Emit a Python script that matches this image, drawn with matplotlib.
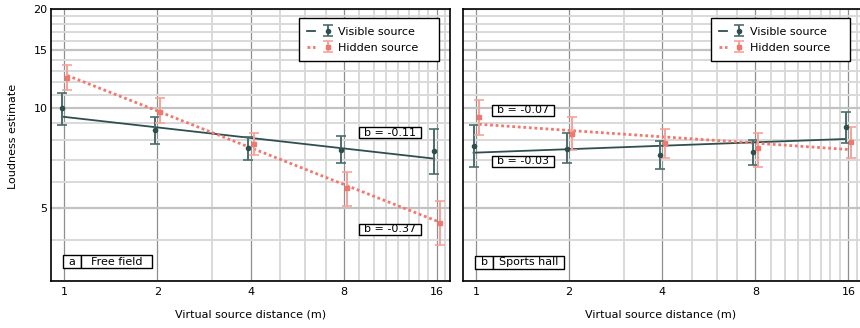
import numpy as np
import matplotlib
matplotlib.use("Agg")
import matplotlib.pyplot as plt
from matplotlib.ticker import FixedLocator, FixedFormatter, NullFormatter
from matplotlib.patches import Rectangle
from matplotlib.path import Path
from matplotlib.legend_handler import HandlerTuple

# ---------------- data ----------------
distances = [1, 2, 4, 8, 16]
x_tick_values = [1, 2, 4, 8, 16]
x_tick_labels = ["1", "2", "4", "8", "16"]
y_tick_values = [5, 10, 15, 20]
y_tick_labels = ["5", "10", "15", "20"]

# Free field (panel a)
ff_visible = [10.0, 8.58, 7.56, 7.49, 7.42]
ff_visible_lo = [8.88, 7.78, 7.00, 6.81, 6.32]
ff_visible_hi = [11.1, 9.39, 8.17, 8.25, 8.67]
ff_hidden = [12.4, 9.77, 7.79, 5.74, 4.50]
ff_hidden_lo = [11.34, 9.05, 7.20, 5.07, 3.85]
ff_hidden_hi = [13.55, 10.77, 8.41, 6.40, 5.24]

# Sports hall (panel b)
sh_visible = [7.70, 7.53, 7.23, 7.36, 8.78]
sh_visible_lo = [6.65, 6.81, 6.54, 6.73, 7.83]
sh_visible_hi = [8.88, 8.44, 7.97, 8.02, 9.77]
sh_hidden = [9.39, 8.34, 7.87, 7.58, 7.89]
sh_hidden_lo = [8.28, 7.46, 7.09, 6.65, 7.05]
sh_hidden_hi = [10.62, 9.39, 8.67, 8.44, 8.78]

ff_slope_labels = ["b = -0.11", "b = -0.37"]   # visible, hidden
sh_slope_labels = ["b = -0.03", "b = -0.07"]   # visible, hidden
panel_letters = ["a", "b"]
panel_names = ["Free field", "Sports hall"]
series_names = ["Visible source", "Hidden source"]

# ---------------- style ----------------
plt.rcParams["font.family"] = ["DejaVu Sans"]
plt.rcParams["font.size"] = 8

VIS_C = "#2f4f4f"
VIS_ERR = "#4a6e6b"
HID_C = "#f4776d"
HID_ERR = "#f7a29b"

W, H = 860, 328
fig = plt.figure(figsize=(W / 100, H / 100), dpi=100)

ax_bottom = (H - 281) / H
ax_height = 272 / H
AXW = 399
ax1 = fig.add_axes([51 / W, ax_bottom, AXW / W, ax_height])
ax2 = fig.add_axes([462.7 / W, ax_bottom, AXW / W, ax_height])

x_minor = [3, 5, 6, 7, 9, 10, 11, 12, 13, 14, 15, 17]
y_minor = [3, 4, 6, 7, 8, 9, 11, 12, 13, 14, 16, 17, 18, 19]


def fit_line(x, y):
    b, a = np.polyfit(np.log(x), np.log(y), 1)
    return np.exp(a + b * np.log(np.asarray(x, float)))


def wide_box(x0, y0, width, height, mutation_size):
    px = 0.42 * mutation_size
    py = 0.04 * mutation_size
    verts = [(x0 - px, y0 - py), (x0 + width + px, y0 - py),
             (x0 + width + px, y0 + height + py), (x0 - px, y0 + height + py),
             (x0 - px, y0 - py)]
    return Path(verts, closed=True)


def draw_panel(ax, vis, vis_lo, vis_hi, hid, hid_lo, hid_hi, show_ylabels):
    ax.set_xscale("log")
    ax.set_yscale("log")
    ax.set_xlim(0.906, 17.66)
    ax.set_ylim(3, 20)
    ax.set_axisbelow(True)

    ax.xaxis.set_major_locator(FixedLocator(x_tick_values))
    ax.xaxis.set_major_formatter(FixedFormatter(x_tick_labels))
    ax.xaxis.set_minor_locator(FixedLocator(x_minor))
    ax.xaxis.set_minor_formatter(NullFormatter())
    ax.yaxis.set_major_locator(FixedLocator(y_tick_values))
    if show_ylabels:
        ax.yaxis.set_major_formatter(FixedFormatter(y_tick_labels))
    else:
        ax.yaxis.set_major_formatter(NullFormatter())
    ax.yaxis.set_minor_locator(FixedLocator(y_minor))
    ax.yaxis.set_minor_formatter(NullFormatter())
    ax.tick_params(which="both", length=0)
    ax.tick_params(axis="x", pad=4, labelsize=8)
    ax.tick_params(axis="y", pad=2.5, labelsize=8)

    ax.grid(which="minor", axis="both", color="#d9d9d9", lw=1.4)
    ax.grid(which="major", axis="y", color="#c2c2c2", lw=1.6)
    ax.grid(which="major", axis="x", color="#8f8f8f", lw=0.9)
    for s in ax.spines.values():
        s.set_color("black")
        s.set_linewidth(1.2)

    x = np.asarray(distances, float)
    xv = x * 0.982
    xh = x * 1.023

    vis = np.asarray(vis); hid = np.asarray(hid)
    vis_err = [vis - np.asarray(vis_lo), np.asarray(vis_hi) - vis]
    hid_err = [hid - np.asarray(hid_lo), np.asarray(hid_hi) - hid]

    lv, = ax.plot(xv, fit_line(x, vis), color=VIS_C, lw=1.3, zorder=3)
    lh, = ax.plot(xh, fit_line(x, hid), color=HID_C, lw=2.0,
                  linestyle=(0, (1, 1)), zorder=3)
    ev = ax.errorbar(xv, vis, yerr=vis_err, fmt="o", ms=3, color=VIS_C,
                     ecolor=VIS_ERR, elinewidth=1.4, capsize=3.5,
                     capthick=1.2, zorder=4)
    eh = ax.errorbar(xh, hid, yerr=hid_err, fmt="s", ms=3, color=HID_C,
                     ecolor=HID_ERR, elinewidth=1.4, capsize=3.5,
                     capthick=1.2, zorder=4)

    top = 1 - 9.3 / 272
    leg = ax.legend([(lv, ev), (lh, eh)], series_names,
                    handler_map={tuple: HandlerTuple(ndivide=None)},
                    loc="upper left", mode="expand",
                    bbox_to_anchor=(248 / AXW, top - 0.3, 139.7 / AXW, 0.3),
                    borderaxespad=0, fancybox=False, framealpha=1,
                    edgecolor="black", fontsize=8, handlelength=2.2,
                    handletextpad=0.55, borderpad=0.75, labelspacing=0.55)
    leg.get_frame().set_linewidth(1.0)
    return ax


def slope_box(ax, x, y, text):
    ax.text(x, y, text, ha="center", va="center", fontsize=8, zorder=6,
            bbox=dict(boxstyle=wide_box, fc="white", ec="black", lw=1.0))


def panel_tag(ax, letter, name, x0, x1, x2, y0, y1):
    for a, b in [(x0, x1), (x1, x2)]:
        ax.add_patch(Rectangle((a, y0), b - a, y1 - y0, transform=ax.transAxes,
                               fc="white", ec="black", lw=1.0, zorder=6))
    ax.text((x0 + x1) / 2, (y0 + y1) / 2, letter, transform=ax.transAxes,
            ha="center", va="center", fontsize=8, zorder=7)
    ax.text((x1 + x2) / 2, (y0 + y1) / 2, name, transform=ax.transAxes,
            ha="center", va="center", fontsize=8, zorder=7)


draw_panel(ax1, ff_visible, ff_visible_lo, ff_visible_hi,
           ff_hidden, ff_hidden_lo, ff_hidden_hi, True)
draw_panel(ax2, sh_visible, sh_visible_lo, sh_visible_hi,
           sh_hidden, sh_hidden_lo, sh_hidden_hi, False)

slope_box(ax1, 11.3, 8.45, ff_slope_labels[0])
slope_box(ax1, 11.3, 4.30, ff_slope_labels[1])
slope_box(ax2, 1.42, 9.86, sh_slope_labels[1])
slope_box(ax2, 1.42, 6.91, sh_slope_labels[0])

panel_tag(ax1, panel_letters[0], panel_names[0],
          (62.7 - 51) / AXW, (81.3 - 51) / AXW, (151.7 - 51) / AXW,
          (281 - 268.3) / 272, (281 - 255) / 272)
panel_tag(ax2, panel_letters[1], panel_names[1],
          (475.3 - 462.7) / AXW, (493.3 - 462.7) / AXW, (564 - 462.7) / AXW,
          (281 - 268.5) / 272, (281 - 255.5) / 272)

fig.text(250.5 / W, 1 - 314.3 / H, "Virtual source distance (m)",
         ha="center", va="center", fontsize=8)
fig.text(661 / W, 1 - 314.3 / H, "Virtual source distance (m)",
         ha="center", va="center", fontsize=8)
fig.text(13 / W, 1 - 136.5 / H, "Loudness estimate", rotation=90,
         ha="center", va="center", fontsize=8)

fig.savefig("out.png", dpi=100)
